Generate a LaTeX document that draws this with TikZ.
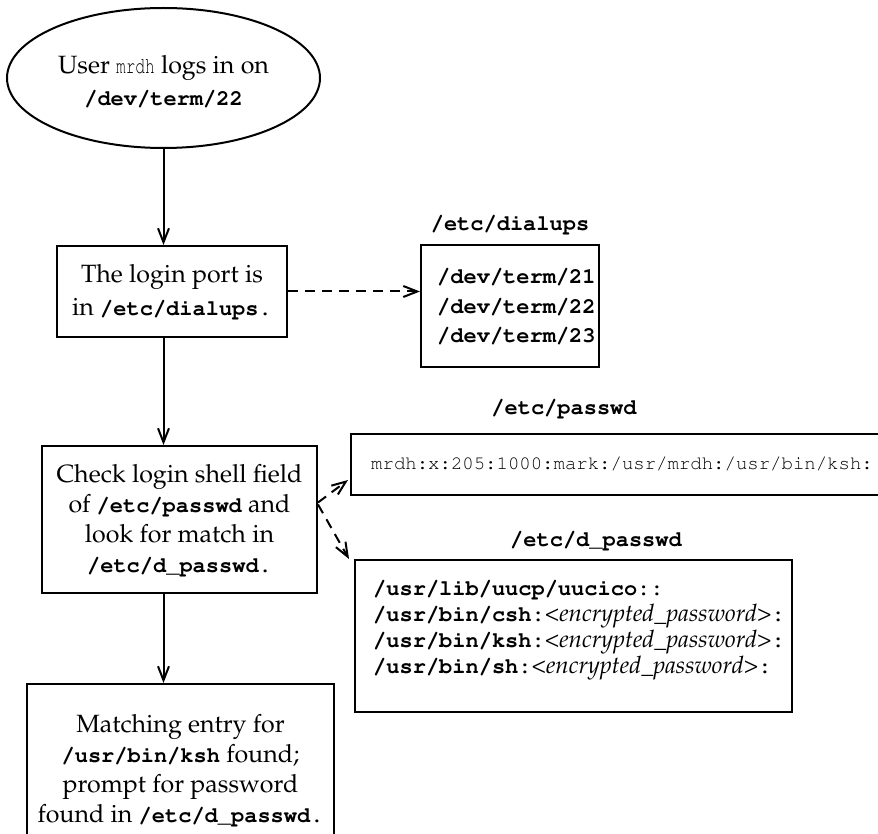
\documentclass[tikz,border=0pt]{standalone}
\usepackage[T1]{fontenc}
\usepackage{graphicx}
\renewcommand{\rmdefault}{ppl}
\renewcommand{\ttdefault}{pcr}
\usetikzlibrary{shapes.geometric,arrows.meta}
\newcommand{\mtt}[1]{{\fontsize{22}{26}\selectfont\ttfamily\bfseries #1}}
\newcommand{\mlt}[1]{\scalebox{0.7}[1]{\fontsize{23}{26}\selectfont\ttfamily #1}}
\begin{document}
\begin{tikzpicture}[x=1pt,y=-1pt,
  lw/.style={line width=2pt},
  box/.style={draw, lw, rectangle, inner sep=0pt, align=center,
    font=\fontsize{25}{30}\selectfont},
  txt/.style={inner sep=0pt, font=\fontsize{25}{30}\selectfont},
  lab/.style={inner sep=0pt, font=\fontsize{22}{26}\selectfont\ttfamily\bfseries},
  arr/.style={lw, -{Straight Barb[length=14pt,width=11pt,line width=2pt]}},
  darr/.style={arr, dash pattern=on 10pt off 7pt}]
\clip (0,0) rectangle (878,834);

% start ellipse
\node[ellipse, draw, lw, minimum width=313pt, minimum height=140pt, inner sep=0pt] (ell) at (163.5,78) {};
\node[txt, align=center, font=\fontsize{25}{32}\selectfont] (elltxt) at (163.5,81)
  {User \mlt{mrdh} logs in on\\ \mtt{/dev/term/22}};

% box 1
\node[box, minimum width=230pt, minimum height=91pt, font=\fontsize{25}{33}\selectfont] (b1) at (172,291.5)
  {The login port is\\in \mtt{/etc/dialups.}};

% dialups
\node[lab] (dlab) at (510,225) {/etc/dialups};
\node[box, minimum width=178pt, minimum height=122pt] (dbox) at (510,306) {};
\node[lab, anchor=west, align=left, font=\fontsize{22}{29.5}\selectfont\ttfamily\bfseries] (dtxt) at (437,307)
  {/dev/term/21\\/dev/term/22\\/dev/term/23};

% box 2
\node[box, minimum width=275pt, minimum height=147pt] (b2) at (179.5,519.5)
  {Check login shell field\\of \mtt{/etc/passwd} and\\look for match in\\\mtt{/etc/d\_passwd.}};

% passwd
\node[lab] (plab) at (564,409) {/etc/passwd};
\node[box, minimum width=539pt, minimum height=61pt] (pbox) at (620.5,464.5) {};
\node[inner sep=0pt, anchor=west, font=\fontsize{19}{22}\selectfont\ttfamily] (ptxt) at (371,464)
  {mrdh:x:205:1000:mark:/usr/mrdh:/usr/bin/ksh:};

% d_passwd
\node[lab] (dplab) at (596,541) {/etc/d\_passwd};
\node[box, minimum width=437pt, minimum height=152pt] (dpbox) at (573.5,636) {};
\node[txt, anchor=west, align=left, font=\fontsize{24}{26}\selectfont] (dptxt) at (373,630)
  {\mtt{/usr/lib/uucp/uucico::}\\
   \mtt{/usr/bin/csh:}\textit{<encrypted\_password>}\mtt{:}\\
   \mtt{/usr/bin/ksh:}\textit{<encrypted\_password>}\mtt{:}\\
   \mtt{/usr/bin/sh:}\textit{<encrypted\_password>}\mtt{:}};

% box 3
\node[box, minimum width=307pt, minimum height=171pt] (b3) at (180.5,769.5)
  {Matching entry for\\\mtt{/usr/bin/ksh} found;\\prompt for password\\found in \mtt{/etc/d\_passwd.}};

% connectors
\draw[arr] (ell.south) -- (ell.south |- b1.north);
\draw[arr] (b1.south -| ell.south) -- (b2.north -| ell.south);
\draw[arr] (b2.south -| ell.south) -- (b3.north -| ell.south);
\draw[darr] (b1.east) -- (dbox.west |- b1.east);
\draw[darr] ([yshift=17pt]b2.east) -- ([xshift=-2pt,yshift=-15.5pt]pbox.west);
\draw[darr] ([yshift=15pt]b2.east) -- ([xshift=-5pt]dpbox.north west);
\end{tikzpicture}
\end{document}
